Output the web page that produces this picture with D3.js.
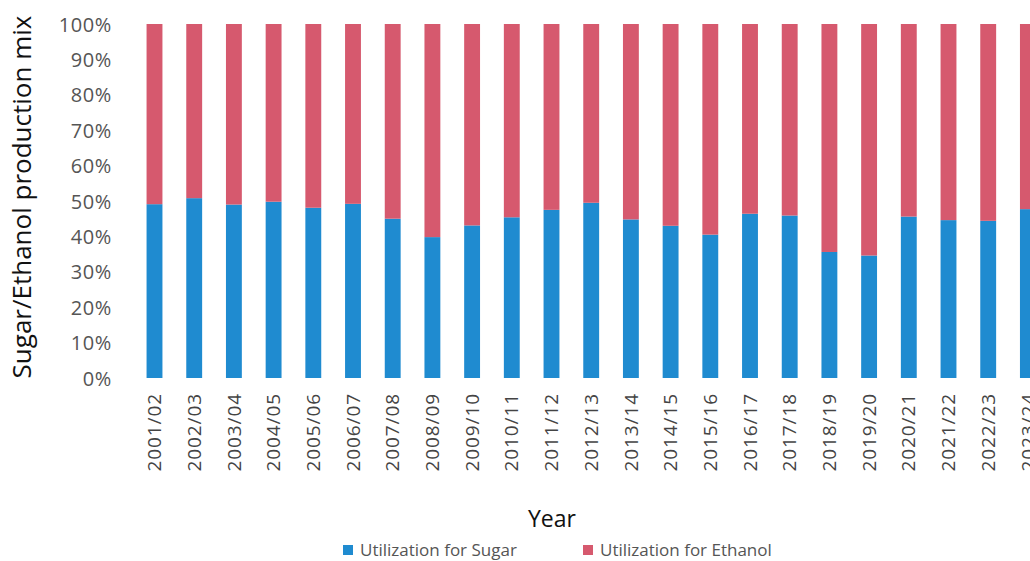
<!DOCTYPE html>
<html>
<head>
<meta charset="utf-8">
<script src="https://cdn.jsdelivr.net/npm/d3@7/dist/d3.min.js"></script>
<style>
  html, body { margin: 0; padding: 0; background: #ffffff; }
  svg { display: block; }
</style>
</head>
<body>
<svg id="chart" width="1030" height="561"></svg>
<script>
const years = ["2001/02","2002/03","2003/04","2004/05","2005/06","2006/07","2007/08","2008/09","2009/10","2010/11","2011/12","2012/13","2013/14","2014/15","2015/16","2016/17","2017/18","2018/19","2019/20","2020/21","2021/22","2022/23","2023/24"];
const sugarShare = [49.1, 50.8, 49.0, 49.8, 48.1, 49.2, 45.0, 39.8, 43.1, 45.4, 47.5, 49.5, 44.8, 43.0, 40.5, 46.4, 45.9, 35.6, 34.6, 45.6, 44.6, 44.4, 47.7];
const ethanolShare = sugarShare.map(v => 100 - v);
const seriesNames = ["Utilization for Sugar", "Utilization for Ethanol"];
const seriesColors = ["#1f8bd0", "#d6596e"];
const yTicks = [0, 10, 20, 30, 40, 50, 60, 70, 80, 90, 100];

const svg = d3.select("#chart");
const font = "'Open Sans', sans-serif";

const x = d3.scaleBand().domain(years).range([134.65, 1047.75]).paddingInner(0.6).paddingOuter(0.3);
const y = d3.scaleLinear().domain([0, 100]).range([378, 24]);

const rows = years.map((yr, i) => ({ year: yr, sugar: sugarShare[i], ethanol: ethanolShare[i] }));
const stack = d3.stack().keys(["sugar", "ethanol"]);
const stacked = stack(rows);

svg.append("g").selectAll("g")
  .data(stacked).join("g")
  .attr("fill", (d, i) => seriesColors[i])
  .selectAll("rect")
  .data(d => d).join("rect")
  .attr("x", d => x(d.data.year))
  .attr("width", x.bandwidth())
  .attr("y", d => y(d[1]))
  .attr("height", d => y(d[0]) - y(d[1]));

// Y axis (labels only)
const yAxis = svg.append("g")
  .attr("transform", "translate(112,0)")
  .call(d3.axisLeft(y).tickValues(yTicks).tickFormat(d => d + "%").tickSize(0).tickPadding(0));
yAxis.select(".domain").remove();
yAxis.selectAll("text").attr("font-family", font).attr("font-size", 20).attr("fill", "#555")
  .attr("letter-spacing", "0.6px").attr("dy", "0.35em");

// X axis labels
const xAxis = svg.append("g")
  .attr("transform", "translate(0,393)")
  .call(d3.axisBottom(x).tickSize(0).tickPadding(0));
xAxis.select(".domain").remove();
xAxis.selectAll("text")
  .attr("font-family", font).attr("font-size", 19).attr("fill", "#444")
  .attr("letter-spacing", "0.9px")
  .attr("transform", "rotate(-90)")
  .attr("text-anchor", "end")
  .attr("x", 0).attr("y", 0).attr("dy", "0.35em");

// Axis titles
svg.append("text")
  .attr("transform", "translate(22,197) rotate(-90)")
  .attr("text-anchor", "middle").attr("dy", "0.35em")
  .attr("font-family", font).attr("font-size", 26).attr("fill", "#111")
  .text("Sugar/Ethanol production mix");

svg.append("text")
  .attr("x", 552).attr("y", 519)
  .attr("text-anchor", "middle").attr("dy", "0.35em")
  .attr("font-family", font).attr("font-size", 23).attr("fill", "#111")
  .text("Year");

// Legend
const legendX = [343, 583];
const legend = svg.append("g").selectAll("g").data(seriesNames).join("g")
  .attr("transform", (d, i) => `translate(${legendX[i]},550)`);
legend.append("rect").attr("x", 0).attr("y", -5).attr("width", 10).attr("height", 10)
  .attr("fill", (d, i) => seriesColors[i]);
legend.append("text").attr("x", 17).attr("y", 0).attr("dy", "0.35em")
  .attr("font-family", font).attr("font-size", 17).attr("fill", "#555")
  .text(d => d);
</script>
</body>
</html>
